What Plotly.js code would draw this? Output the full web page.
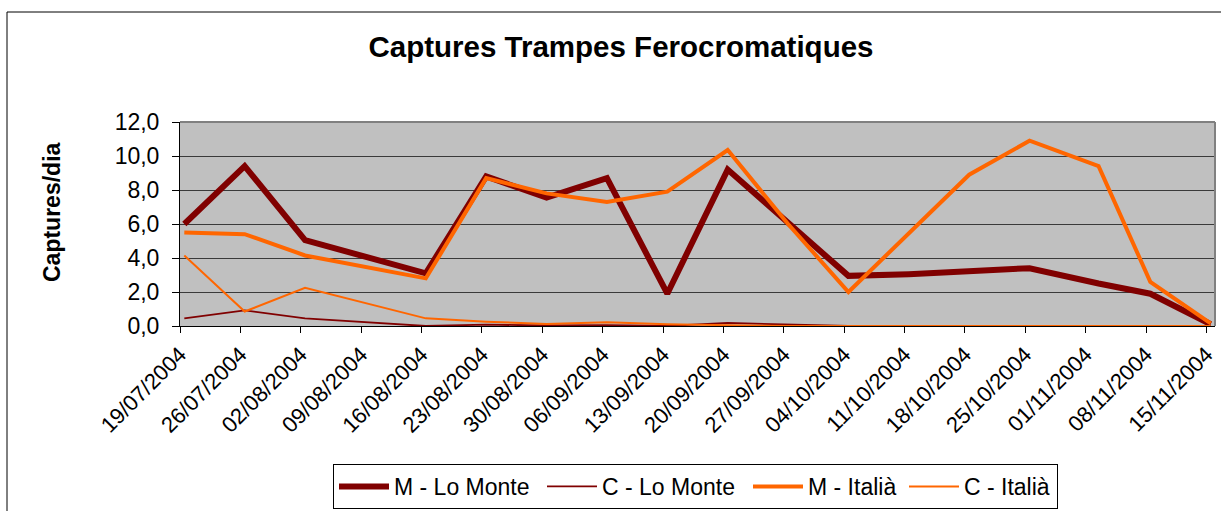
<!DOCTYPE html>
<html>
<head>
<meta charset="utf-8">
<script src="https://cdn.plot.ly/plotly-3.0.1.min.js"></script>
<style>html,body{margin:0;padding:0;background:#fff;}#chart{width:1221px;height:511px;}</style>
</head>
<body>
<div id="chart"></div>
<script>
// Sampling dates (dd/mm/yyyy as read on the chart)
var sampleDates = ["2004-07-19","2004-07-26","2004-08-02","2004-08-09","2004-08-16","2004-08-23","2004-08-30","2004-09-06","2004-09-13","2004-09-20","2004-09-27","2004-10-04","2004-10-11","2004-10-18","2004-10-25","2004-11-02","2004-11-08","2004-11-15"];
// Weekly axis ticks
var tickDates = ["2004-07-19","2004-07-26","2004-08-02","2004-08-09","2004-08-16","2004-08-23","2004-08-30","2004-09-06","2004-09-13","2004-09-20","2004-09-27","2004-10-04","2004-10-11","2004-10-18","2004-10-25","2004-11-01","2004-11-08","2004-11-15"];
var tickLabels = ["19/07/2004","26/07/2004","02/08/2004","09/08/2004","16/08/2004","23/08/2004","30/08/2004","06/09/2004","13/09/2004","20/09/2004","27/09/2004","04/10/2004","11/10/2004","18/10/2004","25/10/2004","01/11/2004","08/11/2004","15/11/2004"];
var seriesNames = ["M - Lo Monte","C - Lo Monte","M - Italià","C - Italià"];
var mLoMonte = [6.0, 9.4, 5.05, 4.1, 3.1, 8.8, 7.55, 8.7, 1.9, 9.2, 6.1, 2.95, 3.05, 3.2, 3.4, 2.5, 1.9, 0.1];
var cLoMonte = [0.45, 0.92, 0.45, 0.22, 0.0, 0.08, 0.03, 0.05, 0.0, 0.18, 0.08, 0.0, 0.0, 0.0, 0.0, 0.0, 0.0, 0.0];
var mItalia  = [5.5, 5.4, 4.15, 3.45, 2.8, 8.7, 7.8, 7.3, 7.9, 10.35, 6.0, 2.0, 5.45, 8.9, 10.9, 9.4, 2.6, 0.15];
var cItalia  = [4.15, 0.85, 2.25, 1.35, 0.45, 0.25, 0.12, 0.22, 0.1, 0.05, 0.0, 0.0, 0.0, 0.0, 0.0, 0.0, 0.0, 0.0];
var axisStart = "2004-07-19", axisEnd = "2004-11-16";

// Excel date axis: points sit in the middle of their day
var xs = sampleDates.map(function(d){ return d + " 12:00"; });
var FONT = "Liberation Sans, Arial, sans-serif";

function tr(name, y, color, width, lw){
  return {x: xs, y: y, name: name, type: "scatter", mode: "lines",
          line: {color: color, width: width}, legendwidth: lw};
}
var data = [
  tr(seriesNames[0], mLoMonte, "#800000", 6, 143),
  tr(seriesNames[1], cLoMonte, "#800000", 1.8, 141),
  tr(seriesNames[2], mItalia, "#FF6600", 4, 91),
  tr(seriesNames[3], cItalia, "#FF6600", 2, 88)
];
var L = 180, R = 6, T = 122, B = 185, W = 1221, H = 511;
var pw = W - L - R, ph = H - T - B;
function px(x){ return (x - L) / pw; }
function py(y){ return (H - B - y) / ph; }

var layout = {
  width: W, height: H,
  margin: {l: L, r: R, t: T, b: B, pad: 0, autoexpand: false},
  paper_bgcolor: "#ffffff", plot_bgcolor: "#C0C0C0",
  separators: ", ",
  font: {family: FONT, color: "#000"},
  title: {text: "Captures Trampes Ferocromatiques", font: {family: FONT, size: 29.5, weight: 700, color: "#000"},
          x: 621 / W, xanchor: "center", xref: "container", y: 1 - 47 / H, yanchor: "middle", yref: "container", automargin: false},
  xaxis: {type: "date", range: [axisStart, axisEnd], tickmode: "array", tickvals: tickDates, ticktext: tickLabels,
          tickangle: -45, tickfont: {size: 22, family: FONT, color: "#000"}, ticks: "outside", ticklen: 6,
          tickcolor: "#000", showline: true, linecolor: "#000", linewidth: 1, showgrid: false, zeroline: false,
          fixedrange: true, automargin: false, layer: "below traces"},
  yaxis: {range: [0, 12], dtick: 2, tick0: 0, tickformat: ".1f", tickfont: {size: 23, family: FONT, color: "#000"},
          ticks: "outside", ticklen: 7, tickcolor: "#000", ticklabelstandoff: 8, showline: true, linecolor: "#000",
          linewidth: 1, showgrid: true, gridcolor: "#3a3a3a", gridwidth: 1, zeroline: false, fixedrange: true,
          automargin: false},
  showlegend: true,
  legend: {orientation: "h", x: px(333), y: py(464), xanchor: "left", yanchor: "top",
           bordercolor: "#000", borderwidth: 1, bgcolor: "#fff", font: {size: 23, family: FONT, color: "#000"},
           itemwidth: 50, traceorder: "normal", tracegroupgap: 0},
  annotations: [{text: "Captures/dia", textangle: -90, xref: "paper", yref: "paper", x: px(52), y: py(212),
                 xanchor: "center", yanchor: "middle", showarrow: false,
                 font: {size: 23, family: FONT, weight: 700, color: "#000"}}],
  shapes: [
    {type: "rect", xref: "paper", yref: "paper", x0: px(7), x1: px(1235), y0: py(525), y1: py(12),
     line: {color: "#000", width: 1}, fillcolor: "rgba(0,0,0,0)", layer: "below"},
    {type: "line", xref: "paper", yref: "paper", x0: 0, x1: 1, y0: 1, y1: 1, line: {color: "#808080", width: 2}, layer: "above"},
    {type: "line", xref: "paper", yref: "paper", x0: 1, x1: 1, y0: 0, y1: 1, line: {color: "#808080", width: 2}, layer: "above"}
  ]
};
Plotly.newPlot("chart", data, layout, {staticPlot: true, displayModeBar: false});
</script>
</body>
</html>
